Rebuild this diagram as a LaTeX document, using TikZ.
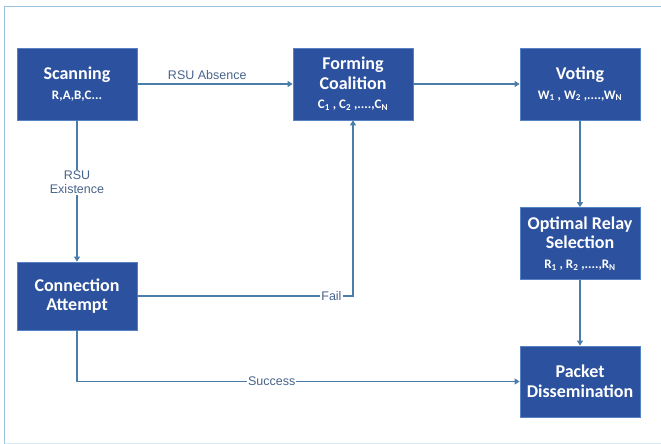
\documentclass[tikz,border=0pt]{standalone}
\usepackage{fontspec}
\setmainfont{Carlito}
\newfontfamily\labelfont{Liberation Sans}
\usetikzlibrary{arrows.meta,positioning}

\definecolor{boxblue}{RGB}{44,81,158}
\definecolor{boxedge}{RGB}{86,130,196}
\definecolor{linkblue}{RGB}{74,125,170}
\definecolor{labelblue}{RGB}{72,100,140}
\definecolor{frameblue}{RGB}{155,195,222}

\newcommand{\subfont}{\fontsize{13}{16}\selectfont}

\tikzset{
  stage/.style={draw=boxedge, line width=0.8pt, fill=boxblue, text=white,
    minimum width=120pt, minimum height=72pt, align=center, inner sep=2pt,
    font=\bfseries\fontsize{18}{19.5}\selectfont},
  link/.style={draw=linkblue, line width=1.2pt, -{Triangle[width=6pt,length=5pt]}},
  tag/.style={text=labelblue, font=\labelfont\fontsize{12.5}{14}\selectfont, fill=white,
    inner sep=1pt, align=center},
}

\begin{document}
\begin{tikzpicture}[x=1pt,y=1pt]
\useasboundingbox (0,0) rectangle (661,444);
% frame
\draw[frameblue, line width=1.5pt] (4.5,-2) -- (4.5,437.5) -- (663,437.5);
\draw[frameblue!35, line width=0.8pt] (4.5,1) -- (663,1);

% stages
\node[stage] (scan) at (77,360) {Scanning\\{\subfont R,A,B,C...}};
\node[stage] (coal) at (353,360) {Forming\\Coalition\\{\subfont C\textsubscript{1} , C\textsubscript{2} ,....,C\textsubscript{N}}};
\node[stage] (vote) at (580,360) {Voting\\{\subfont W\textsubscript{1} , W\textsubscript{2} ,....,W\textsubscript{N}}};
\node[stage] (relay) at (580,200.5) {Optimal Relay\\Selection\\{\subfont R\textsubscript{1} , R\textsubscript{2} ,....,R\textsubscript{N}}};
\node[stage, minimum height=68pt] (conn) at (77,148) {Connection\\Attempt};
\node[stage, minimum height=71pt] (pack) at (580,62.5) {Packet\\Dissemination};

% links
\draw[link] (scan) -- node[tag, above=3pt, pos=0.45, fill=none] {RSU Absence} (coal);
\draw[link] (coal) -- (vote);
\draw[link] (vote) -- (relay);
\draw[link] (relay) -- (pack);
\draw[link] (scan) -- node[tag, pos=0.44] {RSU\\Existence} (conn);
\draw[link] (conn.east) -| node[tag, pos=0.45] {Fail} (coal.south);
\draw[link] (conn.south) |- node[tag, pos=0.72] {Success} (pack.west);
\end{tikzpicture}
\end{document}
